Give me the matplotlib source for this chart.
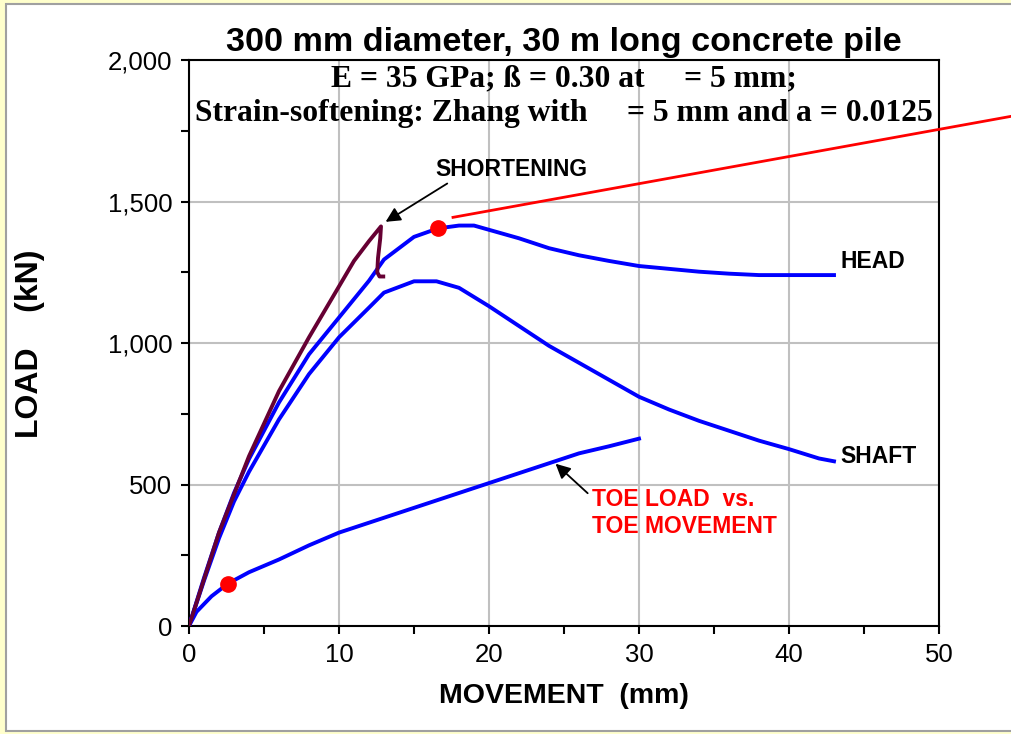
import matplotlib.pyplot as plt
import matplotlib.patches as mpatches
from matplotlib.ticker import MultipleLocator, FuncFormatter

plt.rcParams["font.family"] = ["Liberation Sans", "DejaVu Sans"]

# load-movement curves, movement in mm, load in kN
head_mm = [0, 1, 2, 3, 4, 6, 8, 10, 12, 13, 15, 16.6, 18, 19, 20, 22, 24, 26, 28, 30, 32, 34, 36, 38, 40, 43]
head_kn = [0, 170, 330, 470, 590, 790, 960, 1090, 1220, 1295, 1375, 1405, 1415, 1415, 1400, 1370, 1335, 1310, 1290, 1272, 1262, 1252, 1245, 1240, 1240, 1240]

shaft_mm = [0, 1, 2, 3, 4, 6, 8, 10, 12, 13, 15, 16.5, 18, 20, 22, 24, 26, 28, 30, 32, 34, 36, 38, 40, 42, 43]
shaft_kn = [0, 160, 310, 440, 545, 730, 890, 1020, 1125, 1178, 1218, 1218, 1195, 1130, 1060, 990, 930, 870, 810, 765, 725, 690, 655, 625, 592, 582]

short_mm = [0, 2, 4, 6, 8, 10, 11, 12, 12.8, 12.75, 12.6, 12.55, 12.7, 12.95]
short_kn = [0, 330, 600, 830, 1020, 1200, 1290, 1360, 1412, 1370, 1300, 1250, 1235, 1235]

toe_mm = [0, 0.5, 1.5, 2.6, 4, 6, 8, 10, 12, 14, 16, 18, 20, 22, 24, 26, 28, 30]
toe_kn = [0, 50, 105, 150, 190, 235, 285, 330, 365, 400, 435, 470, 505, 540, 575, 610, 635, 662]

# limit line and marked points
limit_mm = [17.6, 57.0]
limit_kn = [1444, 1822]
dots_mm = [2.6, 16.6]
dots_kn = [150, 1405]

fig = plt.figure(figsize=(10.11, 7.34), dpi=100, facecolor="#FFFFCC")
fig.patches.append(mpatches.Rectangle((6 / 1011, 3 / 734), 1.1, 727 / 734, transform=fig.transFigure,
                                      facecolor="white", edgecolor="#A0A0A0", linewidth=1.5, zorder=-5))

ax = fig.add_axes([189 / 1011, 1 - 626 / 734, 750 / 1011, 566 / 734])
ax.set_xlim(0, 50)
ax.set_ylim(0, 2000)

ax.plot(toe_mm, toe_kn, color="#0000FF", lw=2.8, zorder=3)
ax.plot(shaft_mm, shaft_kn, color="#0000FF", lw=2.8, zorder=3)
ax.plot(head_mm, head_kn, color="#0000FF", lw=2.8, zorder=3)
ax.plot(short_mm, short_kn, color="#660033", lw=2.8, zorder=4)
ax.plot(limit_mm, limit_kn, color="#FF0000", lw=2, clip_on=False, zorder=3)
ax.plot(dots_mm, dots_kn, "o", color="#FF0000", ms=11, zorder=5)

ax.xaxis.set_major_locator(MultipleLocator(10))
ax.xaxis.set_minor_locator(MultipleLocator(5))
ax.yaxis.set_major_locator(MultipleLocator(500))
ax.yaxis.set_minor_locator(MultipleLocator(250))
ax.yaxis.set_major_formatter(FuncFormatter(lambda v, p: f"{v:,.0f}"))
ax.tick_params(which="both", direction="out", length=6, width=1.5, labelsize=18.5, pad=6)
ax.grid(which="major", color="#C0C0C0", lw=1.5)
ax.set_axisbelow(True)
for s in ax.spines.values():
    s.set_linewidth(1.5)

ax.set_xlabel("MOVEMENT  (mm)", fontsize=20.5, fontweight="bold", labelpad=12)
fig.text(30 / 1011, 1 - 344 / 734, "LOAD    (kN)", fontsize=23, fontweight="bold",
         rotation=90, ha="center", va="center")

fig.text(564 / 1011, 1 - 42 / 734, "300 mm diameter, 30 m long concrete pile",
         fontsize=24.6, fontweight="bold", ha="center", va="center")
serif = dict(family="Liberation Serif", fontsize=22.8, fontweight="bold", ha="center", va="center",
             transform=ax.transAxes)
ax.text(0.5, 0.966, "E = 35 GPa; ß = 0.30 at     = 5 mm;", **serif)
ax.text(0.5, 0.906, "Strain-softening: Zhang with     = 5 mm and a = 0.0125", **serif)

lab = dict(fontsize=16.5, fontweight="bold")
ax.annotate("SHORTENING", xy=(12.95, 1423), xytext=(16.4, 1614), va="center", ha="left",
            arrowprops=dict(arrowstyle="-|>", color="black", lw=1.3, mutation_scale=22,
                            relpos=(0.11, 0), shrinkA=0), **lab)
ax.text(43.4, 1288, "HEAD", va="center", **lab)
ax.text(43.4, 598, "SHAFT", va="center", **lab)
ax.annotate("TOE LOAD  vs.\nTOE MOVEMENT", xy=(24.3, 580), xytext=(26.9, 400), va="center", ha="left",
            color="#FF0000", linespacing=1.25,
            arrowprops=dict(arrowstyle="-|>", color="black", lw=1.3, mutation_scale=22,
                            relpos=(0, 0.8)), **lab)

fig.savefig("out.png", dpi=100, facecolor=fig.get_facecolor())
